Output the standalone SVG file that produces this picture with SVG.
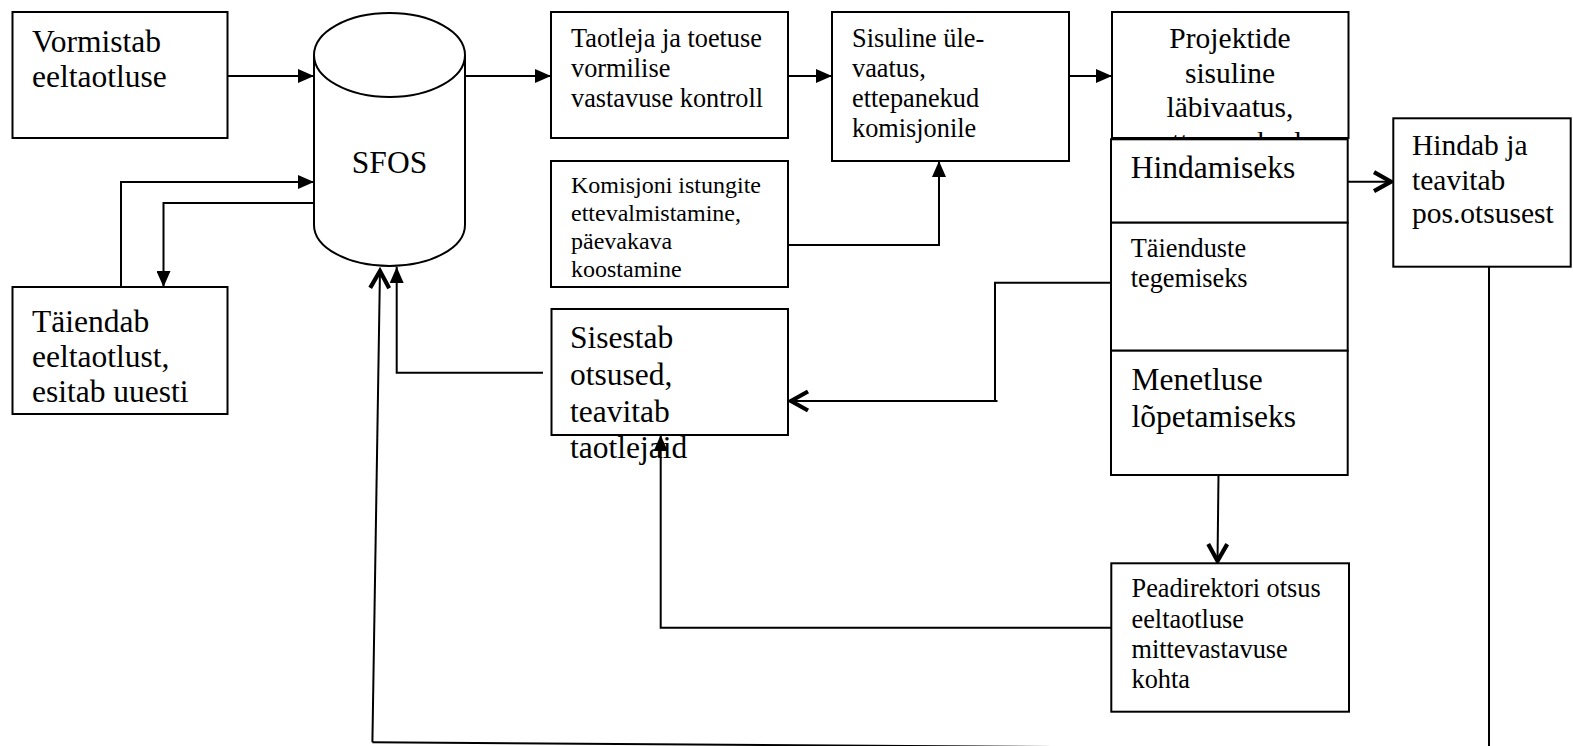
<svg xmlns="http://www.w3.org/2000/svg" width="1573" height="746" viewBox="0 0 1573 746">
<style>
.box{fill:#fff;stroke:#000;stroke-width:2}
.ln{fill:none;stroke:#000;stroke-width:2}
.t{font-family:"Liberation Serif","Times New Roman",serif;fill:#000}
.L{font-size:31.5px}
.M{font-size:29.5px}
.S{font-size:26.3px}
.XS{font-size:24px}
</style>
<defs>
<marker id="fa" markerUnits="userSpaceOnUse" markerWidth="16" markerHeight="14" refX="16" refY="7" orient="auto">
<path d="M0,0 L16,7 L0,14 z" fill="#000"/>
</marker>
<marker id="oa" markerUnits="userSpaceOnUse" markerWidth="26" markerHeight="26" refX="22" refY="13" orient="auto">
<path d="M3,3.5 L20,13 L3,22.5" fill="none" stroke="#000" stroke-width="4.2"/>
</marker>
<clipPath id="cp"><rect x="1112" y="13" width="236" height="125"/></clipPath>
</defs>

<g id="connectors">
<line class="ln" x1="228" y1="76" x2="314" y2="76" marker-end="url(#fa)"/>
<line class="ln" x1="465" y1="76" x2="551" y2="76" marker-end="url(#fa)"/>
<line class="ln" x1="788" y1="76" x2="832" y2="76" marker-end="url(#fa)"/>
<line class="ln" x1="1069" y1="76" x2="1112" y2="76" marker-end="url(#fa)"/>
<polyline class="ln" points="121,287 121,182 314,182" marker-end="url(#fa)"/>
<polyline class="ln" points="314,203 163.5,203 163.5,287" marker-end="url(#fa)"/>
<polyline class="ln" points="788,245 939,245 939,161" marker-end="url(#fa)"/>
<polyline class="ln" points="543,372.7 396.7,372.7 396.7,267" marker-end="url(#fa)"/>
<polyline class="ln" points="1111,627.7 660.7,627.7 660.7,435" marker-end="url(#fa)"/>
<line class="ln" x1="1348" y1="181.7" x2="1393" y2="181.7" marker-end="url(#oa)"/>
<polyline class="ln" points="1111,282.7 995,282.7 995,401"/>
<line class="ln" x1="997.5" y1="401" x2="789" y2="401" marker-end="url(#oa)"/>
<line class="ln" x1="1218.5" y1="475" x2="1217.5" y2="563" marker-end="url(#oa)"/>
<line class="ln" x1="1489" y1="267" x2="1489" y2="746"/>
<line class="ln" x1="1489" y1="750" x2="372.4" y2="742.3"/>
<line class="ln" x1="372.4" y1="742.3" x2="380" y2="269" marker-end="url(#oa)"/>
</g>

<g id="n-vormistab">
<rect class="box" x="12.5" y="12" width="215" height="126"/>
<text class="t L" x="32" y="52">Vormistab<tspan x="32" y="87">eeltaotluse</tspan></text>
</g>

<g id="n-sfos">
<path class="box" d="M314,55 L314,225 A75.5,41 0 0 0 465,225 L465,55"/>
<ellipse class="box" cx="389.5" cy="55" rx="75.5" ry="42"/>
<text class="t L" x="389.5" y="173" text-anchor="middle">SFOS</text>
</g>

<g id="n-taiendab">
<rect class="box" x="12.5" y="287" width="215" height="127"/>
<text class="t L" x="32" y="332">Täiendab<tspan x="32" y="367">eeltaotlust,</tspan><tspan x="32" y="402">esitab uuesti</tspan></text>
</g>

<g id="n-taotleja">
<rect class="box" x="551" y="12" width="237" height="126"/>
<text class="t S" x="571" y="47">Taotleja ja toetuse<tspan x="571" y="77">vormilise</tspan><tspan x="571" y="107">vastavuse kontroll</tspan></text>
</g>

<g id="n-sisuline">
<rect class="box" x="832" y="12" width="237" height="149"/>
<text class="t S" x="852" y="47">Sisuline üle-<tspan x="852" y="77">vaatus,</tspan><tspan x="852" y="107">ettepanekud</tspan><tspan x="852" y="137">komisjonile</tspan></text>
</g>

<g id="n-komisjoni">
<rect class="box" x="551" y="161" width="237" height="126"/>
<text class="t XS" x="571" y="193">Komisjoni istungite<tspan x="571" y="221">ettevalmistamine,</tspan><tspan x="571" y="249">päevakava</tspan><tspan x="571" y="277">koostamine</tspan></text>
</g>

<g id="n-sisestab">
<rect class="box" x="551.5" y="309" width="236.5" height="126"/>
<text class="t L" x="570" y="348">Sisestab<tspan x="570" y="385">otsused,</tspan><tspan x="570" y="421.5">teavitab</tspan><tspan x="570" y="458">taotlejaid</tspan></text>
</g>

<g id="n-projektide">
<rect class="box" x="1112" y="12" width="236.5" height="126"/>
<text class="t M" clip-path="url(#cp)" text-anchor="middle" x="1230" y="48">Projektide<tspan x="1230" y="82.5">sisuline</tspan><tspan x="1230" y="117">läbivaatus,</tspan><tspan x="1230" y="151.5">ettepanekud</tspan></text>
</g>

<g id="n-hindamiseks">
<rect class="box" x="1111" y="139.3" width="236.7" height="83.4"/>
<text class="t L" x="1130.7" y="178">Hindamiseks</text>
</g>

<g id="n-taienduste">
<rect class="box" x="1111" y="222.7" width="236.7" height="128"/>
<text class="t S" x="1130.7" y="257">Täienduste<tspan x="1130.7" y="287">tegemiseks</tspan></text>
</g>

<g id="n-menetluse">
<rect class="box" x="1111" y="350.7" width="236.7" height="124.3"/>
<text class="t L" x="1131.5" y="390">Menetluse<tspan x="1131.5" y="426.7">lõpetamiseks</tspan></text>
</g>

<g id="n-hindab">
<rect class="box" x="1393.3" y="118.3" width="177.4" height="148.4"/>
<text class="t M" x="1412" y="155">Hindab ja<tspan x="1412" y="189.5">teavitab</tspan><tspan x="1412" y="223">pos.otsusest</tspan></text>
</g>

<g id="n-peadirektori">
<rect class="box" x="1111.3" y="563.3" width="237.7" height="148.4"/>
<text class="t S" x="1131.5" y="597">Peadirektori otsus<tspan x="1131.5" y="627.5">eeltaotluse</tspan><tspan x="1131.5" y="658">mittevastavuse</tspan><tspan x="1131.5" y="688">kohta</tspan></text>
</g>
</svg>
